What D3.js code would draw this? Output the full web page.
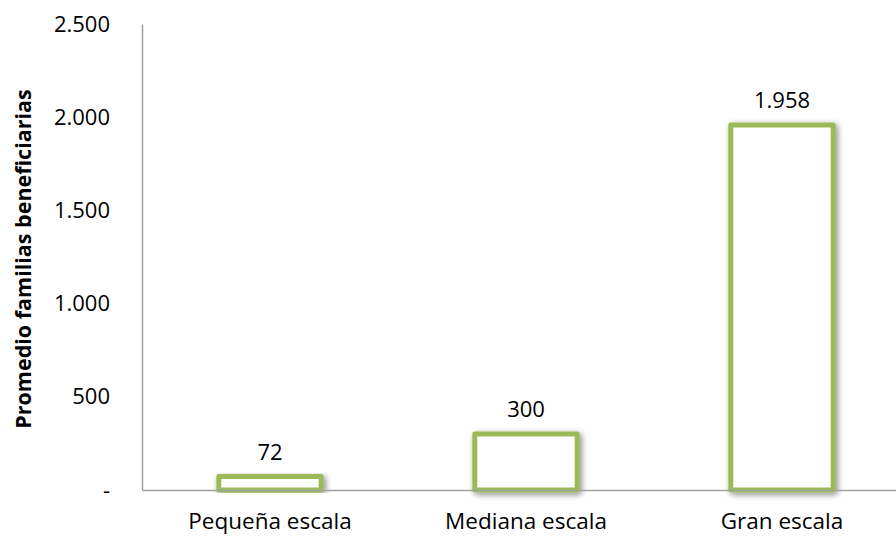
<!DOCTYPE html>
<html>
<head>
<meta charset="utf-8">
<script src="https://cdn.jsdelivr.net/npm/d3@7"></script>
<style>
  body { margin:0; background:#fff; }
  text { font-family: "Open Sans", Lato, sans-serif; fill:#000; }
</style>
</head>
<body>
<div id="chart"></div>
<script>
// data
var categories = ["Pequeña escala", "Mediana escala", "Gran escala"]
var values = [72, 300, 1958]
var yTicks = [0, 500, 1000, 1500, 2000, 2500]
var yTitle = "Promedio familias beneficiarias"

var W = 896, H = 537
var margin = {top: 24, right: -14, bottom: 47, left: 142}
var width = W - margin.left - margin.right
var height = H - margin.top - margin.bottom

var fmt = v => v === 0 ? "-" : d3.format(",")(v).replace(/,/g, ".")

var svg = d3.select("#chart").append("svg")
    .attr("width", W).attr("height", H)

var defs = svg.append("defs")
var f = defs.append("filter").attr("id", "shadow")
    .attr("x", "-20%").attr("y", "-20%").attr("width", "140%").attr("height", "140%")
f.append("feDropShadow")
    .attr("dx", 2).attr("dy", 2).attr("stdDeviation", 3)
    .attr("flood-color", "#000").attr("flood-opacity", 0.45)

var g = svg.append("g").attr("transform", `translate(${margin.left},${margin.top})`)

var x = d3.scaleBand().domain(categories).range([0, width]).paddingInner(0.6).paddingOuter(0.3)
var y = d3.scaleLinear().domain([0, 2500]).range([height, 0])

// bars
g.selectAll(".bar").data(values).enter().append("rect")
    .attr("class", "bar")
    .attr("x", (d, i) => x(categories[i]))
    .attr("y", d => y(d))
    .attr("width", x.bandwidth())
    .attr("height", d => height - y(d))
    .attr("fill", "#fff")
    .attr("stroke", "#9BBB59")
    .attr("stroke-width", 5)
    .attr("stroke-linejoin", "round")
    .attr("filter", "url(#shadow)")

// value labels
g.selectAll(".lbl").data(values).enter().append("text")
    .attr("x", (d, i) => x(categories[i]) + x.bandwidth() / 2)
    .attr("y", d => y(d) - 17)
    .attr("text-anchor", "middle")
    .style("font-size", "22px")
    .text(d => fmt(d))

// y axis
var ya = g.append("g").call(d3.axisLeft(y).tickValues(yTicks).tickSize(0).tickPadding(32).tickFormat(fmt))
ya.select(".domain").attr("stroke", "#a0a0a0").attr("stroke-width", 1.5)
ya.selectAll(".tick text").style("font-size", "22px").attr("dy", "0.32em")

// x axis
var xa = g.append("g").attr("transform", `translate(0,${height})`)
    .call(d3.axisBottom(x).tickSize(0).tickPadding(23))
xa.select(".domain").attr("stroke", "#a0a0a0").attr("stroke-width", 1.5)
xa.selectAll(".tick text").style("font-size", "22.5px")

// y title
svg.append("text")
    .attr("transform", `translate(31,259) rotate(-90)`)
    .attr("text-anchor", "middle")
    .style("font-size", "21.5px").style("font-weight", "bold")
    .text(yTitle)
</script>
</body>
</html>
